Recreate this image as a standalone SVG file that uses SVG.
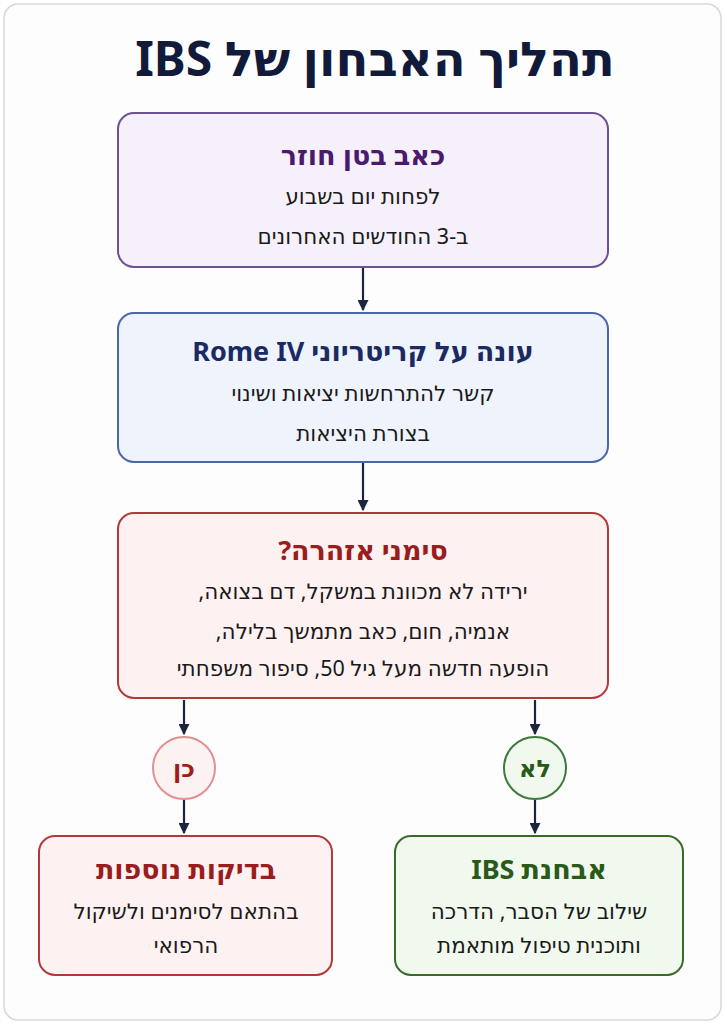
<svg xmlns="http://www.w3.org/2000/svg" width="725" height="1024" viewBox="0 0 725 1024">
<style>
text{font-family:"Noto Sans","DejaVu Sans",sans-serif;text-anchor:middle;direction:rtl}
.t{font-size:27px;font-weight:bold}
.b{font-size:21.5px;fill:#1a1a1a}
.c{stroke:#1c2540;stroke-width:2.2;fill:none;marker-end:url(#ah)}
</style>
<defs><marker id="ah" viewBox="0 0 10 10" refX="9" refY="5" markerWidth="5" markerHeight="5" orient="auto"><path d="M0,0L10,5L0,10z" fill="#1c2540"/></marker></defs>
<rect x="0" y="0" width="725" height="1024" fill="#fff"/>
<rect x="4" y="4" width="717" height="1016" rx="14" fill="#fdfdfe" stroke="#d5d7de" stroke-width="1.5"/>
<text x="375" y="76" style="font-size:48px;font-weight:bold;fill:#121a3a">תהליך האבחון של IBS</text>
<g id="n1"><rect x="118" y="113" width="490" height="154" rx="16" fill="#f6f0fa" stroke="#6e5190" stroke-width="2"/>
<text class="t" x="363" y="165" fill="#4a1a6e">כאב בטן חוזר</text>
<text class="b" x="363" y="204">לפחות יום בשבוע</text>
<text class="b" x="363" y="244">ב-3 החודשים האחרונים</text></g>
<g id="n2"><rect x="118" y="313" width="490" height="149" rx="16" fill="#eef3fc" stroke="#4b67a8" stroke-width="2"/>
<text class="t" x="363" y="361" fill="#1c2a64">עונה על קריטריוני Rome IV</text>
<text class="b" x="363" y="401">קשר להתרחשות יציאות ושינוי</text>
<text class="b" x="363" y="441">בצורת היציאות</text></g>
<g id="n3"><rect x="118" y="513" width="490" height="185" rx="16" fill="#fdf1f1" stroke="#b03a3a" stroke-width="2"/>
<text class="t" x="363" y="560" fill="#9b1c1c">סימני אזהרה?</text>
<text class="b" x="363" y="599">ירידה לא מכוונת במשקל, דם בצואה,</text>
<text class="b" x="363" y="639">אנמיה, חום, כאב מתמשך בלילה,</text>
<text class="b" x="363" y="676">הופעה חדשה מעל גיל 50, סיפור משפחתי</text></g>
<g id="yes"><circle cx="184" cy="768" r="31" fill="#fdf2f2" stroke="#e09090" stroke-width="2"/>
<text x="184" y="777" style="font-size:24px;font-weight:bold;fill:#a01c1c">כן</text></g>
<g id="no"><circle cx="535" cy="768" r="31" fill="#f1f8ee" stroke="#3a7a3a" stroke-width="2"/>
<text x="535" y="777" style="font-size:24px;font-weight:bold;fill:#2a5a1a">לא</text></g>
<g id="n4"><rect x="39" y="836" width="293" height="139" rx="16" fill="#fdf1f1" stroke="#b03a3a" stroke-width="2"/>
<text class="t" x="186" y="879" fill="#9b1c1c">בדיקות נוספות</text>
<text class="b" x="186" y="919">בהתאם לסימנים ולשיקול</text>
<text class="b" x="186" y="953">הרפואי</text></g>
<g id="n5"><rect x="395" y="836" width="288" height="139" rx="16" fill="#f1f8ee" stroke="#3a6a2a" stroke-width="2"/>
<text class="t" x="539" y="879" fill="#2a5a1a">אבחנת IBS</text>
<text class="b" x="539" y="919">שילוב של הסבר, הדרכה</text>
<text class="b" x="539" y="953">ותוכנית טיפול מותאמת</text></g>
<g id="connectors">
<line class="c" x1="363" y1="268" x2="363" y2="310"/>
<line class="c" x1="363" y1="463" x2="363" y2="510"/>
<line class="c" x1="184" y1="700" x2="184" y2="734"/>
<line class="c" x1="535" y1="700" x2="535" y2="734"/>
<line class="c" x1="184" y1="800" x2="184" y2="833"/>
<line class="c" x1="535" y1="800" x2="535" y2="833"/>
</g>
</svg>
